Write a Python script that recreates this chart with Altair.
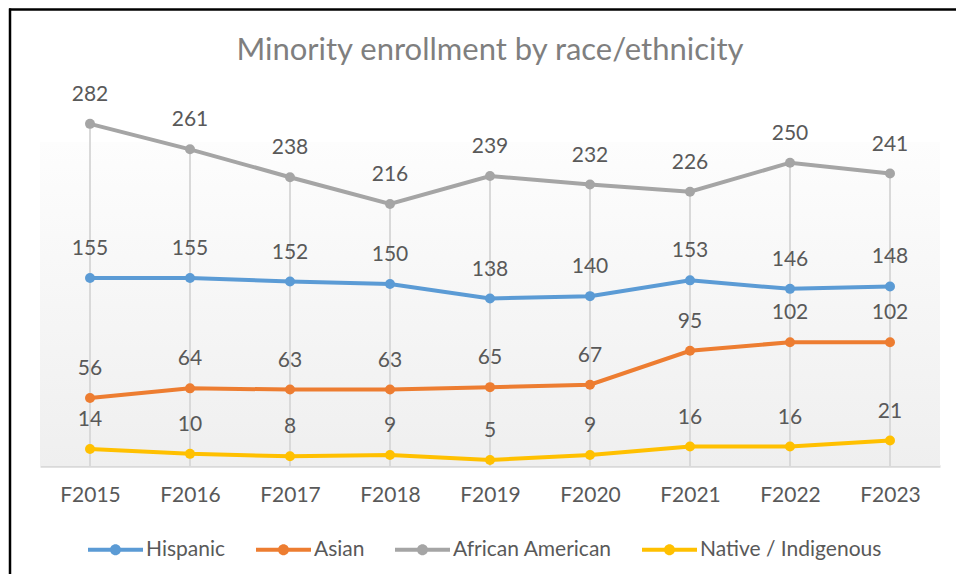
import altair as alt
import pandas as pd

# ---- data ----
years = ["F2015", "F2016", "F2017", "F2018", "F2019", "F2020", "F2021", "F2022", "F2023"]
hispanic = [155, 155, 152, 150, 138, 140, 153, 146, 148]
asian = [56, 64, 63, 63, 65, 67, 95, 102, 102]
african_american = [282, 261, 238, 216, 239, 232, 226, 250, 241]
native = [14, 10, 8, 9, 5, 9, 16, 16, 21]
series_names = ["Hispanic", "Asian", "African American", "Native / Indigenous"]
series_colors = ["#5B9BD5", "#ED7D31", "#A5A5A5", "#FFC000"]
title_text = "Minority enrollment by race/ethnicity"

# ---- layout ----
W, H = 900, 364
FONT = "Lato"
TXT = "#595959"

color_of = dict(zip(series_names, series_colors))
rows = []
for name, vals in zip(series_names, [hispanic, asian, african_american, native]):
    for yr, v in zip(years, vals):
        rows.append({"year": yr, "series": name, "value": v, "hex": color_of[name]})
df = pd.DataFrame(rows)

drop_df = pd.DataFrame({
    "year": years,
    "zero": [0] * len(years),
    "top": [max(vals) for vals in zip(hispanic, asian, african_american, native)],
})

xscale = alt.Scale(type="point", padding=0.5, domain=years)
yscale = alt.Scale(domain=[0, 300], nice=False, zero=True)
cscale = alt.Scale(domain=series_names, range=series_colors)

xaxis = alt.Axis(
    title=None, ticks=False, grid=False, domainColor="#d9d9d9", domainWidth=2.5,
    labelFont=FONT, labelFontSize=21, labelColor=TXT, labelPadding=18, labelAngle=0,
)

X = alt.X("year:N", scale=xscale, axis=xaxis, sort=years)
Y = alt.Y("value:Q", scale=yscale, axis=None)

gradient = alt.Gradient(
    gradient="linear", x1=0, x2=0, y1=0, y2=1,
    stops=[alt.GradientStop(color="#fdfdfd", offset=0), alt.GradientStop(color="#efefef", offset=1)],
)
bg = alt.Chart(pd.DataFrame({"y0": [0], "y1": [267]})).mark_rect(fill=gradient, strokeWidth=0).encode(
    x=alt.value(0), x2=alt.value(W),
    y=alt.Y("y0:Q", scale=yscale, axis=None), y2="y1:Q",
)

drops = alt.Chart(drop_df).mark_rule(color="#d9d9d9", strokeWidth=2).encode(
    x=X, y=alt.Y("zero:Q", scale=yscale, axis=None), y2="top:Q",
)

base = alt.Chart(df)
lines = base.mark_line(strokeWidth=4).encode(
    x=X, y=Y,
    stroke=alt.Stroke("hex:N", scale=None),
    detail="series:N",
)

legend_path = ("M-1,-0.075 L1,-0.075 L1,0.075 L-1,0.075 Z "
               "M0.2,0 A0.2,0.2 0 1,1 -0.2,0 A0.2,0.2 0 1,1 0.2,0 Z")
points = base.mark_point(filled=True, size=100, opacity=1).encode(
    x=X, y=Y,
    color=alt.Color("series:N", scale=cscale, sort=series_names, legend=alt.Legend(
        title=None, orient="none", direction="horizontal", legendX=48, legendY=420,
        symbolType=legend_path, symbolSize=3025, symbolStrokeWidth=0, symbolOpacity=1,
        labelFont=FONT, labelFontSize=21, labelColor=TXT, labelOffset=3, labelLimit=400,
        columnPadding=30, padding=0,
    )),
)

labels = base.mark_text(dy=-29, font=FONT, fontSize=21, color=TXT, baseline="middle").encode(
    x=X, y=Y, text="value:Q",
)

title = alt.Chart(pd.DataFrame({"t": [title_text]})).mark_text(
    font=FONT, fontSize=31, color="#7f7f7f", baseline="middle", align="center",
).encode(text="t:N", x=alt.value(W / 2), y=alt.value(-51))

border_top = alt.Chart(pd.DataFrame({"a": [0]})).mark_rule(color="#000000", strokeWidth=2.5).encode(
    x=alt.value(-31), x2=alt.value(W + 30), y=alt.value(-92.5),
)
border_left = alt.Chart(pd.DataFrame({"a": [0]})).mark_rule(color="#000000", strokeWidth=2.5).encode(
    x=alt.value(-30), y=alt.value(-93.5), y2=alt.value(H + 110),
)

chart = alt.layer(bg, drops, lines, points, labels, title, border_top, border_left).properties(
    width=W, height=H,
    background="white",
    autosize=alt.AutoSizeParams(type="none"),
    padding={"left": 32, "top": 94, "right": 16, "bottom": 108},
).configure_view(stroke=None)

chart.save("out.html", embed_options={"renderer": "svg", "actions": False})
